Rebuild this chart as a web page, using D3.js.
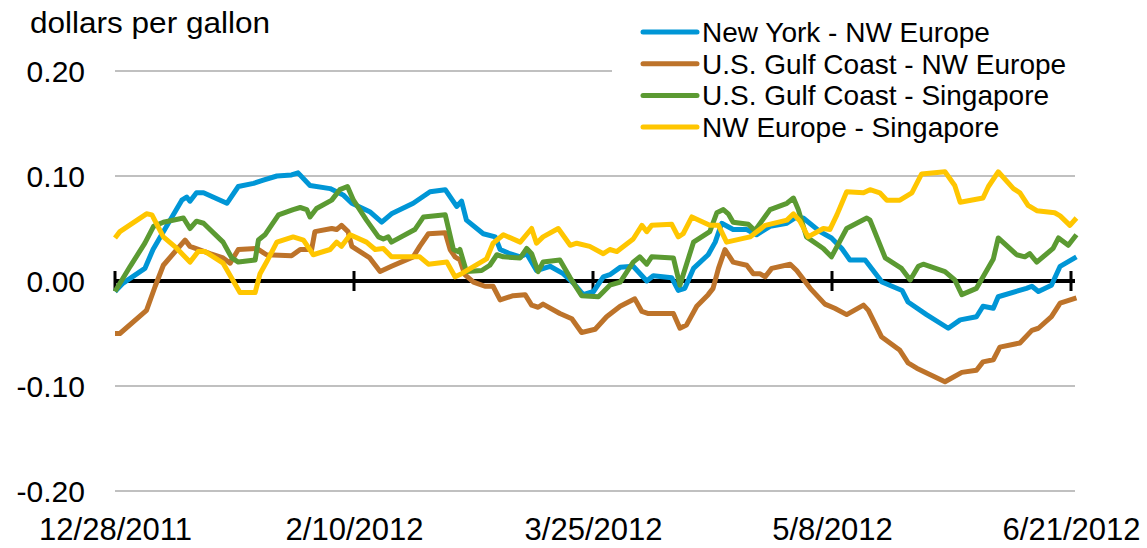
<!DOCTYPE html>
<html>
<head>
<meta charset="utf-8">
<script src="https://cdn.jsdelivr.net/npm/d3@7"></script>
<style>
  body { margin: 0; background: #fff; }
  svg text { font-family: Arial, "Liberation Sans", sans-serif; fill: #000; }
</style>
</head>
<body>
<svg id="chart"></svg>
<script>
// series: [days since 12/28/2011, dollars per gallon]
const newYorkNWEurope = [
  [0, -0.010], [1.5, -0.002], [5.5, 0.012], [7.0, 0.030], [8.9, 0.047], [12.3, 0.077],
  [13.2, 0.080], [13.8, 0.076], [15.0, 0.084], [16.3, 0.084], [20.6, 0.074], [22.7, 0.090],
  [25.5, 0.093], [27.3, 0.096], [29.8, 0.100], [32.5, 0.101], [33.7, 0.103], [35.9, 0.091],
  [39.6, 0.088], [42.0, 0.082], [43.6, 0.074], [46.9, 0.066], [49.1, 0.056], [50.9, 0.064],
  [54.9, 0.074], [58.0, 0.085], [60.8, 0.087], [62.9, 0.071], [63.8, 0.076], [64.7, 0.058],
  [67.8, 0.045], [70.0, 0.042], [70.9, 0.030], [72.7, 0.026], [74.6, 0.023], [75.8, 0.026],
  [77.6, 0.010], [80.1, 0.014], [82.5, 0.007], [84.4, -0.002], [86.2, -0.013], [88.1, -0.010],
  [89.9, 0.004], [91.1, 0.006], [93.0, 0.013], [95.4, 0.014], [97.9, 0.000], [99.1, 0.005],
  [102.5, 0.003], [103.7, -0.009], [104.9, -0.007], [106.5, 0.012], [109.2, 0.025], [110.5, 0.037],
  [111.7, 0.055], [113.8, 0.049], [116.3, 0.049], [118.1, 0.044], [120.6, 0.052], [123.7, 0.055],
  [125.2, 0.060], [126.7, 0.060], [129.8, 0.047], [131.9, 0.041], [133.8, 0.031], [135.3, 0.020],
  [138.1, 0.020], [141.2, -0.001], [144.9, -0.009], [146.0, -0.020], [149.4, -0.032], [153.4, -0.045],
  [155.6, -0.037], [158.6, -0.034], [159.8, -0.024], [161.7, -0.026], [162.6, -0.015], [167.8, -0.007],
  [168.8, -0.005], [170.0, -0.010], [172.4, -0.004], [174.0, 0.014], [177.0, 0.023]
]

const gulfNWEurope = [
  [0, -0.050], [0.9, -0.050], [5.8, -0.028], [7.4, -0.005], [8.9, 0.015], [11.4, 0.030],
  [12.9, 0.039], [13.8, 0.033], [17.5, 0.026], [19.9, 0.022], [21.2, 0.017], [22.7, 0.030],
  [26.1, 0.031], [27.9, 0.025], [32.5, 0.024], [34.1, 0.030], [36.2, 0.030], [36.8, 0.047],
  [39.9, 0.050], [40.8, 0.049], [41.7, 0.053], [42.9, 0.047], [43.6, 0.033], [46.9, 0.022],
  [48.8, 0.009], [50.9, 0.014], [54.9, 0.023], [56.1, 0.033], [57.7, 0.045], [60.8, 0.046],
  [61.7, 0.030], [62.6, 0.023], [63.5, 0.020], [64.4, 0.006], [66.0, -0.001], [68.1, -0.005],
  [69.6, -0.005], [70.9, -0.018], [73.3, -0.014], [75.5, -0.013], [76.7, -0.023], [77.9, -0.025],
  [78.8, -0.022], [81.9, -0.031], [84.1, -0.036], [85.9, -0.049], [88.4, -0.046], [90.5, -0.034],
  [93.0, -0.024], [95.7, -0.017], [97.0, -0.029], [98.2, -0.031], [102.8, -0.031], [104.0, -0.045],
  [105.2, -0.042], [107.1, -0.024], [109.2, -0.013], [110.1, -0.007], [111.1, 0.012], [112.3, 0.030],
  [113.8, 0.018], [116.3, 0.015], [117.5, 0.007], [118.7, 0.007], [119.7, 0.004], [120.9, 0.012],
  [124.3, 0.016], [125.5, 0.010], [128.0, -0.007], [130.7, -0.022], [132.5, -0.026], [134.7, -0.032],
  [137.8, -0.023], [138.7, -0.028], [141.1, -0.053], [144.5, -0.066], [146.0, -0.078], [147.6, -0.083],
  [152.8, -0.096], [155.9, -0.087], [158.6, -0.085], [159.8, -0.077], [161.7, -0.075], [162.9, -0.063],
  [166.6, -0.059], [168.8, -0.047], [170.0, -0.045], [172.4, -0.034], [174.0, -0.021], [177.0, -0.016]
]

const gulfSingapore = [
  [0, -0.010], [2.8, 0.014], [5.5, 0.036], [7.1, 0.052], [8.9, 0.056], [12.6, 0.060],
  [13.8, 0.050], [15.0, 0.057], [16.3, 0.055], [19.9, 0.037], [21.5, 0.022], [22.7, 0.018],
  [25.8, 0.020], [26.4, 0.039], [27.6, 0.044], [30.1, 0.063], [32.8, 0.068], [34.1, 0.070],
  [35.3, 0.068], [35.9, 0.061], [37.1, 0.069], [39.9, 0.077], [41.4, 0.087], [42.8, 0.090],
  [43.9, 0.077], [46.3, 0.058], [48.5, 0.042], [49.4, 0.040], [50.3, 0.042], [50.9, 0.037],
  [55.2, 0.049], [56.8, 0.061], [60.8, 0.063], [62.3, 0.030], [63.2, 0.028], [63.5, 0.030],
  [64.7, 0.009], [67.5, 0.010], [69.0, 0.015], [70.3, 0.025], [71.5, 0.023], [74.6, 0.022],
  [75.8, 0.031], [76.7, 0.026], [77.9, 0.009], [78.8, 0.018], [81.9, 0.020], [83.8, 0.003],
  [85.9, -0.014], [89.0, -0.015], [91.1, -0.004], [93.0, -0.001], [95.4, 0.018], [96.6, 0.023],
  [97.9, 0.016], [98.8, 0.023], [102.8, 0.022], [104.0, -0.004], [106.5, 0.037], [109.5, 0.047],
  [110.8, 0.065], [112.0, 0.068], [112.9, 0.064], [113.8, 0.056], [116.6, 0.054], [117.8, 0.048],
  [120.6, 0.068], [123.7, 0.074], [124.9, 0.079], [125.8, 0.068], [127.3, 0.042], [130.4, 0.031],
  [131.9, 0.023], [134.7, 0.050], [138.4, 0.060], [139.0, 0.058], [141.8, 0.022], [144.8, 0.012],
  [146.4, 0.001], [147.9, 0.014], [148.8, 0.016], [152.8, 0.009], [154.6, 0.001], [155.9, -0.013],
  [158.6, -0.007], [161.7, 0.021], [162.6, 0.041], [166.0, 0.025], [167.5, 0.023], [168.4, 0.026],
  [169.7, 0.018], [172.7, 0.031], [173.7, 0.041], [175.5, 0.034], [177.0, 0.044]
]

const nwEuropeSingapore = [
  [0, 0.041], [0.9, 0.047], [5.8, 0.064], [6.8, 0.063], [8.9, 0.042], [11.4, 0.031],
  [13.8, 0.018], [15.3, 0.028], [16.6, 0.028], [19.9, 0.017], [23.0, -0.011], [25.8, -0.011],
  [26.7, 0.007], [27.9, 0.018], [29.8, 0.037], [32.8, 0.042], [34.7, 0.039], [36.5, 0.025],
  [39.6, 0.030], [40.8, 0.037], [41.7, 0.033], [43.3, 0.044], [46.3, 0.037], [47.9, 0.030],
  [49.4, 0.031], [50.9, 0.023], [56.1, 0.023], [57.7, 0.016], [61.1, 0.018], [62.6, 0.004],
  [63.8, 0.007], [68.4, 0.021], [69.6, 0.036], [71.5, 0.044], [74.6, 0.037], [76.7, 0.050],
  [77.6, 0.036], [78.8, 0.042], [81.6, 0.050], [83.8, 0.034], [85.0, 0.036], [87.4, 0.033],
  [89.9, 0.026], [91.1, 0.030], [92.4, 0.028], [95.4, 0.040], [97.0, 0.053], [97.9, 0.047],
  [98.8, 0.053], [102.5, 0.054], [103.7, 0.042], [104.6, 0.045], [106.2, 0.061], [109.5, 0.053],
  [111.1, 0.053], [112.6, 0.037], [116.9, 0.042], [119.7, 0.053], [123.7, 0.058], [124.9, 0.064],
  [126.1, 0.057], [127.6, 0.042], [130.4, 0.050], [131.6, 0.049], [132.9, 0.063], [134.7, 0.085],
  [137.8, 0.084], [139.0, 0.087], [140.8, 0.084], [142.1, 0.077], [144.5, 0.077], [146.7, 0.084],
  [148.5, 0.102], [152.8, 0.104], [154.6, 0.091], [155.6, 0.075], [159.8, 0.079], [160.8, 0.090],
  [162.6, 0.104], [165.4, 0.088], [166.6, 0.084], [168.1, 0.072], [169.7, 0.067], [173.0, 0.065],
  [174.0, 0.062], [175.8, 0.053], [177.0, 0.060]
]

const seriesNames = ['New York - NW Europe', 'U.S. Gulf Coast - NW Europe', 'U.S. Gulf Coast - Singapore', 'NW Europe - Singapore']
const seriesColors = ['#0096d6', '#bd732a', '#5b9a32', '#ffc600']
const xTickLabels = ['12/28/2011', '2/10/2012', '3/25/2012', '5/8/2012', '6/21/2012']
const yTicks = [-0.2, -0.1, 0, 0.1, 0.2]

const width = 1147
const height = 548
const startDate = new Date(2011, 11, 28)
const dayMs = 864e5
const toDate = d => new Date(startDate.getTime() + d * dayMs)

const svg = d3.select('#chart')
  .attr('width', width)
  .attr('height', height)

const x = d3.scaleTime()
  .domain([startDate, toDate(176)])
  .range([115, 1071])

const y = d3.scaleLinear()
  .domain([-0.2, 0.2])
  .range([491, 71])

const tickDates = xTickLabels.map(s => d3.timeParse('%m/%d/%Y')(s))

// gridlines
svg.append('g')
  .selectAll('line')
  .data(yTicks.filter(v => v !== 0))
  .enter()
  .append('line')
  .attr('x1', 115)
  .attr('x2', 1075)
  .attr('y1', d => y(d))
  .attr('y2', d => y(d))
  .attr('stroke', '#c0c0c0')
  .attr('stroke-width', 2)

// y labels
const yAxis = d3.axisLeft(y)
  .tickValues(yTicks)
  .tickFormat(d3.format('.2f'))
  .tickSize(0)
  .tickPadding(0)

svg.append('g')
  .attr('transform', 'translate(85,0)')
  .call(yAxis)
  .call(g => g.select('.domain').remove())
  .selectAll('text')
  .attr('font-size', 30)
  .attr('font-family', 'Arial, "Liberation Sans", sans-serif')
  .attr('fill', '#000')
  .attr('dy', '0.36em')
  .text(d => d3.format('.2f')(d).replace('−', '-'))

// zero line with ticks
svg.append('line')
  .attr('x1', 115)
  .attr('x2', 1075)
  .attr('y1', y(0))
  .attr('y2', y(0))
  .attr('stroke', '#000')
  .attr('stroke-width', 4)

svg.append('g')
  .selectAll('line')
  .data(tickDates)
  .enter()
  .append('line')
  .attr('x1', d => x(d))
  .attr('x2', d => x(d))
  .attr('y1', y(0) - 10)
  .attr('y2', y(0) + 10)
  .attr('stroke', '#000')
  .attr('stroke-width', 3)

// x labels
const xAxis = d3.axisBottom(x)
  .tickValues(tickDates)
  .tickFormat((d, i) => xTickLabels[i])
  .tickSize(0)
  .tickPadding(0)

svg.append('g')
  .attr('transform', 'translate(0,540)')
  .call(xAxis)
  .call(g => g.select('.domain').remove())
  .selectAll('text')
  .attr('font-size', 31)
  .attr('font-family', 'Arial, "Liberation Sans", sans-serif')
  .attr('fill', '#000')
  .attr('dy', 0)
  .attr('y', 0)

// lines
const line = d3.line()
  .x(d => x(toDate(d[0])))
  .y(d => y(d[1]))

const allSeries = [newYorkNWEurope, gulfNWEurope, gulfSingapore, nwEuropeSingapore]

svg.append('g')
  .selectAll('path')
  .data(allSeries)
  .enter()
  .append('path')
  .attr('d', line)
  .attr('fill', 'none')
  .attr('stroke', (d, i) => seriesColors[i])
  .attr('stroke-width', 5)
  .attr('stroke-linejoin', 'round')

// unit label
svg.append('text')
  .attr('x', 30)
  .attr('y', 33)
  .attr('font-size', 30)
  .attr('textLength', 240)
  .attr('lengthAdjust', 'spacingAndGlyphs')
  .text('dollars per gallon')

// legend
const legend = svg.append('g')

legend.append('rect')
  .attr('x', 612)
  .attr('y', 10)
  .attr('width', 480)
  .attr('height', 135)
  .attr('fill', '#fff')

const items = legend.selectAll('g')
  .data(seriesNames)
  .enter()
  .append('g')
  .attr('transform', (d, i) => `translate(643,${32 + i * 31.7})`)

items.append('line')
  .attr('x1', 0)
  .attr('x2', 54)
  .attr('stroke', (d, i) => seriesColors[i])
  .attr('stroke-width', 5)
  .attr('stroke-linecap', 'round')

items.append('text')
  .attr('x', 59)
  .attr('dy', '0.36em')
  .attr('font-size', 28)
  .text(d => d)
</script>
</body>
</html>
